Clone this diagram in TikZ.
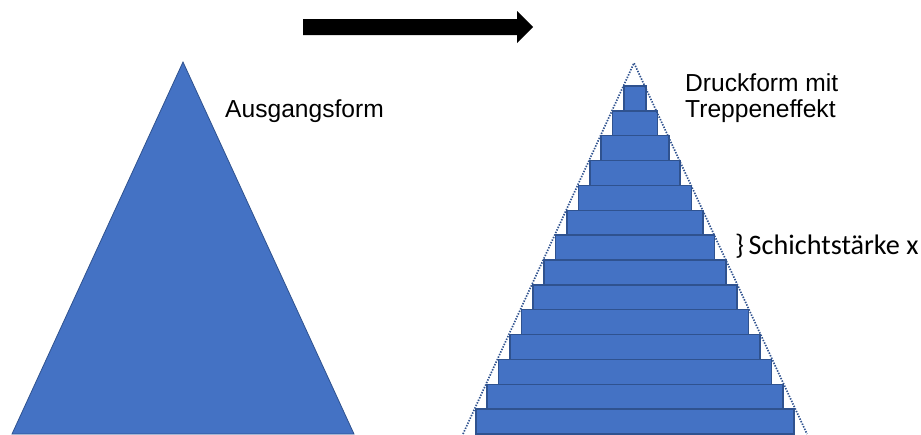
\documentclass[tikz,border=0pt]{standalone}
\usepackage{fontspec}
\setmainfont{Liberation Sans}
\newfontfamily\calfont{Carlito}
\definecolor{fillblue}{HTML}{4472C4}
\definecolor{edgeblue}{HTML}{2F528F}
\tikzset{
  shapefill/.style={fill=fillblue, draw=edgeblue, line width=0.8pt},
  layerbox/.style={fill=fillblue, draw=edgeblue, line width=1.5pt},
  outline/.style={draw=edgeblue, line width=1.7pt, dash pattern=on 1.4pt off 1.4pt},
  label/.style={inner sep=0pt, anchor=base west, font=\fontsize{24.6}{26}\selectfont, align=left},
}
\begin{document}
\begin{tikzpicture}[x=1pt,y=-1pt]
\useasboundingbox (0,0) rectangle (921,434);
% arrow
\fill[black] (303,19) -- (517,19) -- (517,11) -- (533,27) -- (517,43) -- (517,35) -- (303,35) -- cycle;
% left triangle
\path[shapefill] (12,434) -- (183,62) -- (354,434) -- cycle;
% stacked layers
\foreach \i in {0,...,13}{
  \pgfmathsetmacro{\yt}{86+\i*24.86}
  \pgfmathsetmacro{\yb}{86+(\i+1)*24.86}
  \pgfmathsetmacro{\hw}{11+\i*11.4}
  \path[layerbox] (635-\hw,\yt) rectangle (635+\hw,\yb);
}
% dotted outline
\path[outline] (463,434) -- (634,63) -- (807,434);
% labels
\node[label] (ausgang) at (225,117) {Ausgangsform};
\node[label] (druck) at (685,117) {Druckform mit\\Treppeneffekt};
\node[label, font=\calfont\fontsize{28.2}{30}\selectfont] (schicht) at (735,254) {\}\,Schichtstärke x};
\end{tikzpicture}
\end{document}
